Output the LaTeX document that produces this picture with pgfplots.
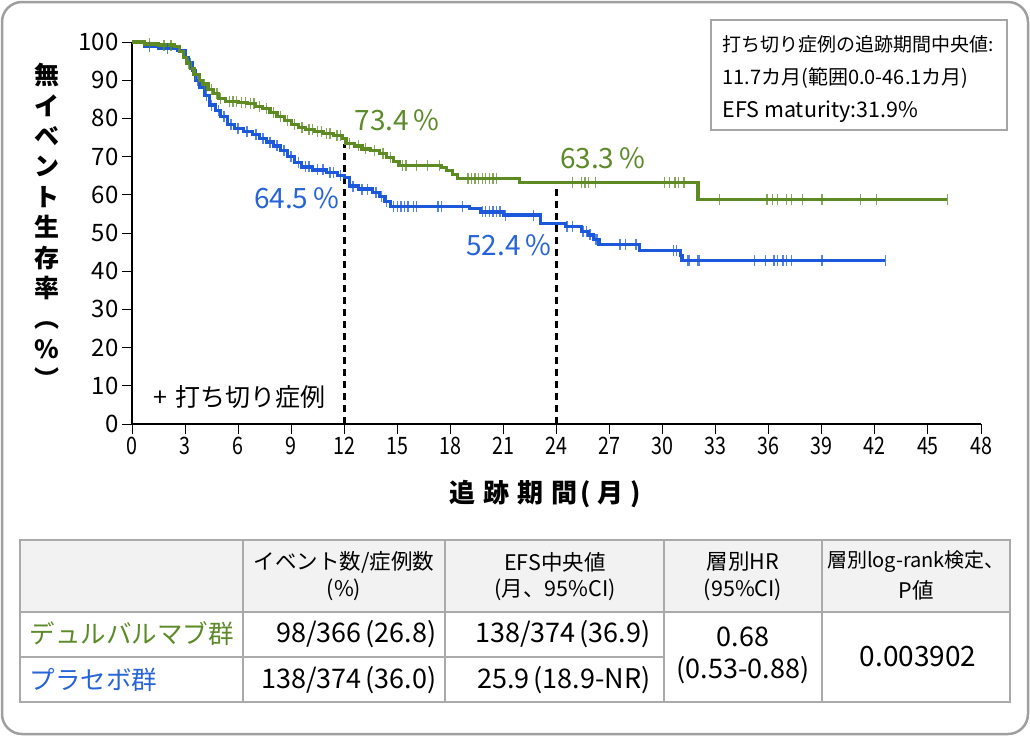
\documentclass[border=0pt]{standalone}
\usepackage{pgfplots}
\pgfplotsset{compat=1.18}
\usepackage{fontspec}
\setmainfont{Noto Sans CJK JP}
\definecolor{dgreen}{RGB}{94,138,36}
\definecolor{dblue}{RGB}{28,88,218}
\definecolor{tgreen}{RGB}{92,138,40}
\definecolor{tblue}{RGB}{38,100,216}
\definecolor{gridgray}{RGB}{170,170,170}
\definecolor{headfill}{RGB}{242,242,242}
\begin{document}
\begin{tikzpicture}[x=1pt,y=1pt]
\path[use as bounding box] (0,0) rectangle (1030,-736);
\draw[gray!75, line width=2.5pt, rounded corners=20pt] (2,-2) rectangle (1028,-734);
\begin{axis}[
  at={(132pt,-424pt)}, anchor=south west,
  scale only axis, width=849pt, height=382pt,
  xmin=0, xmax=48, ymin=0, ymax=100,
  axis x line*=bottom, axis y line*=left,
  xtick={0,3,...,48}, ytick={0,10,...,100},
  tick align=outside, major tick length=10pt,
  tick style={black, line width=1pt},
  axis line style={black, line width=1.6pt},
  xticklabel style={font=\fontsize{24}{24}\selectfont, xscale=0.82},
  yticklabel style={font=\fontsize{24}{24}\selectfont},
  /pgf/number format/assume math mode=true,
  clip=false,
]
% dashed reference lines
\addplot[black, line width=2.6pt, dash pattern=on 7pt off 5pt] coordinates {(12.03,0) (12.03,73.4)};
\addplot[black, line width=2.6pt, dash pattern=on 7pt off 5pt] coordinates {(24,0) (24,63.3)};
% placebo (blue)
\addplot[dblue, line width=3.2pt, const plot, no marks] coordinates {
(0,100) (0.7,98.8) (1.5,98.3) (2.6,97.8) (3.0,96.0) (3.2,94.5) (3.4,92.5) (3.6,90.0)
(3.8,88.0) (4.1,86.0) (4.4,83.5) (4.7,82.0) (5.0,80.5) (5.4,78.5) (5.8,77.3) (6.3,76.5)
(6.8,75.8) (7.2,74.8) (7.6,73.8) (8.0,72.8) (8.4,71.5) (8.8,70.0) (9.2,68.5) (9.6,67.3)
(10.2,66.5) (11.0,65.8) (11.6,65.0) (12.0,64.5) (12.3,62.3) (12.8,61.5) (13.6,60.6)
(14.0,59.5) (14.3,58.2) (14.6,57.0) (19.1,56.5) (19.7,55.5) (21.0,54.7) (23.1,52.4)
(24.5,51.6) (25.4,50.4) (25.8,49.5) (26.1,48.2) (26.4,47.0) (28.7,45.4) (31.0,44.2)
(31.1,42.8) (42.6,42.8)};
% durvalumab (green)
\addplot[dgreen, line width=3.2pt, const plot, no marks] coordinates {
(0,100) (0.7,99.5) (1.5,99.2) (2.4,98.8) (2.7,97.5) (2.9,96.0) (3.1,94.5) (3.3,93.0)
(3.5,91.5) (3.8,90.0) (4.0,89.0) (4.3,87.5) (4.6,86.5) (4.9,85.2) (5.3,84.5) (6.0,84.2)
(6.5,83.8) (7.0,83.2) (7.4,82.5) (7.8,81.5) (8.2,80.5) (8.6,79.5) (9.0,78.3) (9.4,77.6)
(9.8,77.0) (10.3,76.5) (10.8,76.0) (11.4,75.6) (11.9,74.8) (12.1,73.4) (12.6,72.8)
(13.0,72.0) (13.5,71.5) (14.0,70.8) (14.4,69.8) (14.8,68.8) (15.1,67.7) (17.5,67.2)
(17.8,66.4) (18.1,65.3) (18.4,64.3) (21.9,63.3) (32.0,58.8) (46.1,58.8)};
% censor marks blue
\addplot[only marks, mark=|, mark size=5.5pt, dblue, opacity=0.75, mark options={line width=1.4pt}] coordinates {
(1.0,98.8) (2.0,98.3) (3.3,94.5) (3.7,90.0) (4.2,86.0) (4.5,83.5) (4.9,82.0) (5.2,80.5)
(5.6,78.5) (6.0,77.3) (6.5,76.5) (7.0,75.8) (7.4,74.8) (7.8,73.8) (8.2,72.8) (8.6,71.5)
(9.0,70.0) (9.4,68.5) (9.8,67.3) (10.0,67.3) (10.5,66.5) (10.8,66.5) (11.2,65.8) (11.4,65.8)
(11.8,65.0) (12.5,62.3) (13.0,61.5) (13.3,61.5) (13.8,60.6) (14.1,59.5) (14.4,58.2)
(14.8,57.0) (15.0,57.0) (15.2,57.0) (15.4,57.0) (15.6,57.0) (15.9,57.0) (16.1,57.0)
(17.3,57.0) (17.5,57.0) (18.7,57.0) (19.8,55.5) (20.0,55.5) (20.2,55.5) (20.4,55.5)
(20.6,55.5) (20.8,55.5) (21.1,54.7) (22.7,54.7) (24.6,51.6) (24.9,51.6) (25.5,50.4)
(25.7,50.4) (25.9,49.5) (26.2,48.2) (26.3,48.2) (27.6,47.0) (27.9,47.0) (28.5,47.0)
(30.6,45.4) (30.8,45.4) (31.05,44.2) (31.4,42.8) (31.5,42.8) (32.0,42.8) (32.1,42.8)
(35.2,42.8) (35.8,42.8) (36.3,42.8) (36.5,42.8) (36.8,42.8) (37.0,42.8) (37.3,42.8)
(39.0,42.8) (42.6,42.8)};
% censor marks green
\addplot[only marks, mark=|, mark size=5.5pt, dgreen, opacity=0.75, mark options={line width=1.4pt}] coordinates {
(1.0,99.5) (1.8,99.2) (2.2,99.2) (3.2,94.5) (3.6,91.5) (4.1,89.0) (4.5,87.5) (4.8,86.5)
(5.0,85.2) (5.5,84.5) (5.7,84.5) (5.9,84.5) (6.2,84.2) (6.4,84.2) (6.7,83.8) (6.9,83.8)
(7.2,83.2) (7.6,82.5) (8.0,81.5) (8.4,80.5) (8.8,79.5) (9.2,78.3) (9.6,77.6) (10.0,77.0)
(10.2,77.0) (10.5,76.5) (10.7,76.5) (11.0,76.0) (11.2,76.0) (11.6,75.6) (11.8,75.6)
(12.3,73.4) (12.8,72.8) (13.2,72.0) (13.7,71.5) (14.2,70.8) (14.6,69.8) (15.3,67.7)
(15.5,67.7) (16.1,67.7) (16.7,67.7) (17.4,67.7) (19.0,64.3) (19.2,64.3) (19.4,64.3)
(19.6,64.3) (19.8,64.3) (20.0,64.3) (20.2,64.3) (20.4,64.3) (20.6,64.3) (24.9,63.3)
(25.4,63.3) (25.6,63.3) (25.8,63.3) (26.2,63.3) (30.1,63.3) (30.4,63.3) (30.7,63.3)
(30.9,63.3) (31.2,63.3) (33.2,58.8) (35.9,58.8) (36.2,58.8) (36.5,58.8) (37.0,58.8)
(37.3,58.8) (37.9,58.8) (39.0,58.8) (41.2,58.8) (42.1,58.8) (46.1,58.8)};
% value labels
\node[tgreen, font=\fontsize{28}{28}\selectfont] at (axis cs:15.0,79.6) {73.4\,\%};
\node[tgreen, font=\fontsize{28}{28}\selectfont] at (axis cs:26.6,69.6) {63.3\,\%};
\node[tblue, font=\fontsize{28}{28}\selectfont] at (axis cs:9.3,59.2) {64.5\,\%};
\node[tblue, font=\fontsize{28}{28}\selectfont] at (axis cs:21.3,46.9) {52.4\,\%};
\end{axis}
% axis titles
\node[font=\bfseries\fontsize{25}{30.4}\selectfont, align=center] at (47,-226)
 {無\\イ\\ベ\\ン\\ト\\生\\存\\率\\︵\\\%\\︶};
\node[font=\bfseries\fontsize{26}{26}\selectfont] at (545,-494)
 {追\hspace{8pt}跡\hspace{8pt}期\hspace{8pt}間\hspace{3pt}(\hspace{7pt}月\hspace{7pt})};
\node[anchor=west, font=\fontsize{25}{25}\selectfont] at (150,-397) {+\hspace{8pt}打ち切り症例};
% info box
\draw[gray!70, line width=1.2pt] (711,-20) rectangle (1007,-130);
\node[anchor=west, font=\fontsize{19}{19}\selectfont] at (719,-44) {打ち切り症例の追跡期間中央値:};
\node[anchor=west, font=\fontsize{20}{20}\selectfont] at (719,-78) {11.7カ月(範囲0.0-46.1カ月)};
\node[anchor=west, font=\fontsize{21.5}{21.5}\selectfont] at (719,-112) {EFS maturity:31.9\%};
% table
\fill[headfill] (20,-540) rectangle (1010,-612);
\draw[gridgray, line width=1.5pt] (20,-540) rectangle (1010,-702);
\draw[gridgray, line width=1.5pt] (20,-612) -- (1010,-612);
\draw[gridgray, line width=1.5pt] (20,-657) -- (664,-657);
\foreach \xx in {243,445,664,822} \draw[gridgray, line width=1.5pt] (\xx,-540) -- (\xx,-702);
\begin{scope}[every node/.style={font=\fontsize{21.5}{21.5}\selectfont}]
\node at (344,-562) {イベント数/症例数};
\node at (344,-590) {(\%)};
\node at (555,-562) {EFS中央値};
\node at (555,-590) {(月、95\%CI)};
\node at (743,-562) {層別HR};
\node at (743,-590) {(95\%CI)};
\node[font=\fontsize{20}{20}\selectfont] at (916,-562) {層別log-rank検定、};
\node at (916,-590) {P値};
\end{scope}
\begin{scope}[every node/.style={font=\fontsize{27}{27}\selectfont}]
\node[anchor=west, tgreen, font=\fontsize{25.5}{25.5}\selectfont] at (26,-634) {デュルバルマブ群};
\node[anchor=west, tblue, font=\fontsize{25.5}{25.5}\selectfont] at (26,-680) {プラセボ群};
\node[anchor=east] at (440,-634) {98/366\hspace{4pt}(26.8)};
\node[anchor=east] at (440,-680) {138/374\hspace{4pt}(36.0)};
\node[anchor=east] at (654,-634) {138/374\hspace{4pt}(36.9)};
\node[anchor=east] at (654,-680) {25.9\hspace{4pt}(18.9-NR)};
\node at (743,-637) {0.68};
\node at (743,-670) {(0.53-0.88)};
\node[font=\fontsize{28}{28}\selectfont] at (918,-657) {0.003902};
\end{scope}
\end{tikzpicture}
\end{document}
